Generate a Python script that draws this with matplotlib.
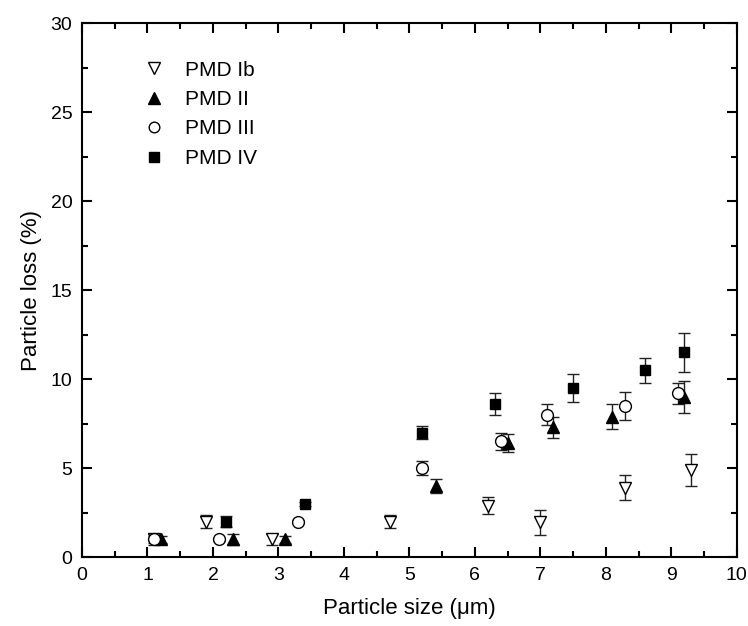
import matplotlib.pyplot as plt
from matplotlib.ticker import MultipleLocator

plt.rcParams['font.family'] = ['Liberation Sans', 'DejaVu Sans']

# PMD Ib (open down triangles)
ib_x = [1.1, 1.9, 2.9, 4.7, 6.2, 7.0, 8.3, 9.3]
ib_y = [1.0, 2.0, 1.0, 2.0, 2.9, 1.95, 3.9, 4.9]
ib_e = [0.3, 0.35, 0.3, 0.35, 0.5, 0.7, 0.7, 0.9]

# PMD II (filled up triangles)
ii_x = [1.2, 2.3, 3.1, 5.4, 6.5, 7.2, 8.1, 9.2]
ii_y = [1.0, 1.0, 1.0, 4.0, 6.4, 7.3, 7.9, 9.0]
ii_e = [0.2, 0.3, 0.2, 0.4, 0.5, 0.6, 0.7, 0.9]

# PMD III (open circles)
iii_x = [1.1, 2.1, 3.3, 5.2, 6.4, 7.1, 8.3, 9.1]
iii_y = [1.0, 1.0, 2.0, 5.0, 6.5, 8.0, 8.5, 9.2]
iii_e = [0.2, 0.1, 0.1, 0.4, 0.5, 0.6, 0.8, 0.6]

# PMD IV (filled squares)
iv_x = [2.2, 3.4, 5.2, 6.3, 7.5, 8.6, 9.2]
iv_y = [2.0, 3.0, 7.0, 8.6, 9.5, 10.5, 11.5]
iv_e = [0.3, 0.1, 0.35, 0.6, 0.8, 0.7, 1.1]

fig = plt.figure(figsize=(7.48, 6.26), dpi=100)
ax = fig.add_axes([0.1096, 0.110, 0.8754, 0.853])

err_kw = dict(linestyle='none', ecolor='#222222', elinewidth=1, capsize=4, capthick=1)
ax.errorbar(ib_x, ib_y, yerr=ib_e, marker='v', markersize=9, mfc='white', mec='black',
            mew=1, label='PMD Ib', **err_kw)
ax.errorbar(ii_x, ii_y, yerr=ii_e, marker='^', markersize=9, mfc='black', mec='black',
            label='PMD II', **err_kw)
ax.errorbar(iii_x, iii_y, yerr=iii_e, marker='o', markersize=8.5, mfc='white', mec='black',
            mew=1, label='PMD III', **err_kw)
ax.errorbar(iv_x, iv_y, yerr=iv_e, marker='s', markersize=7.5, mfc='black', mec='black',
            label='PMD IV', **err_kw)

ax.set_xlim(0, 10)
ax.set_ylim(0, 30)
ax.xaxis.set_major_locator(MultipleLocator(1))
ax.xaxis.set_minor_locator(MultipleLocator(0.5))
ax.yaxis.set_major_locator(MultipleLocator(5))
ax.yaxis.set_minor_locator(MultipleLocator(2.5))
ax.tick_params(which='both', direction='in', top=True, right=True, labelsize=14,
               width=1.5, pad=7)
ax.tick_params(which='major', length=7)
ax.tick_params(which='minor', length=4)
for s in ax.spines.values():
    s.set_linewidth(1.5)

ax.set_xlabel('Particle size (μm)', fontsize=16, labelpad=10)
ax.set_ylabel('Particle loss (%)', fontsize=16, labelpad=6)

handles, labels = ax.get_legend_handles_labels()
handles = [h[0] for h in handles]
ax.legend(handles, labels, loc='upper left', frameon=False, fontsize=15,
          bbox_to_anchor=(0.065, 0.965), handlelength=1.0, handletextpad=1.0,
          labelspacing=0.5, markerscale=0.9)

fig.savefig('out.png', dpi=100)
